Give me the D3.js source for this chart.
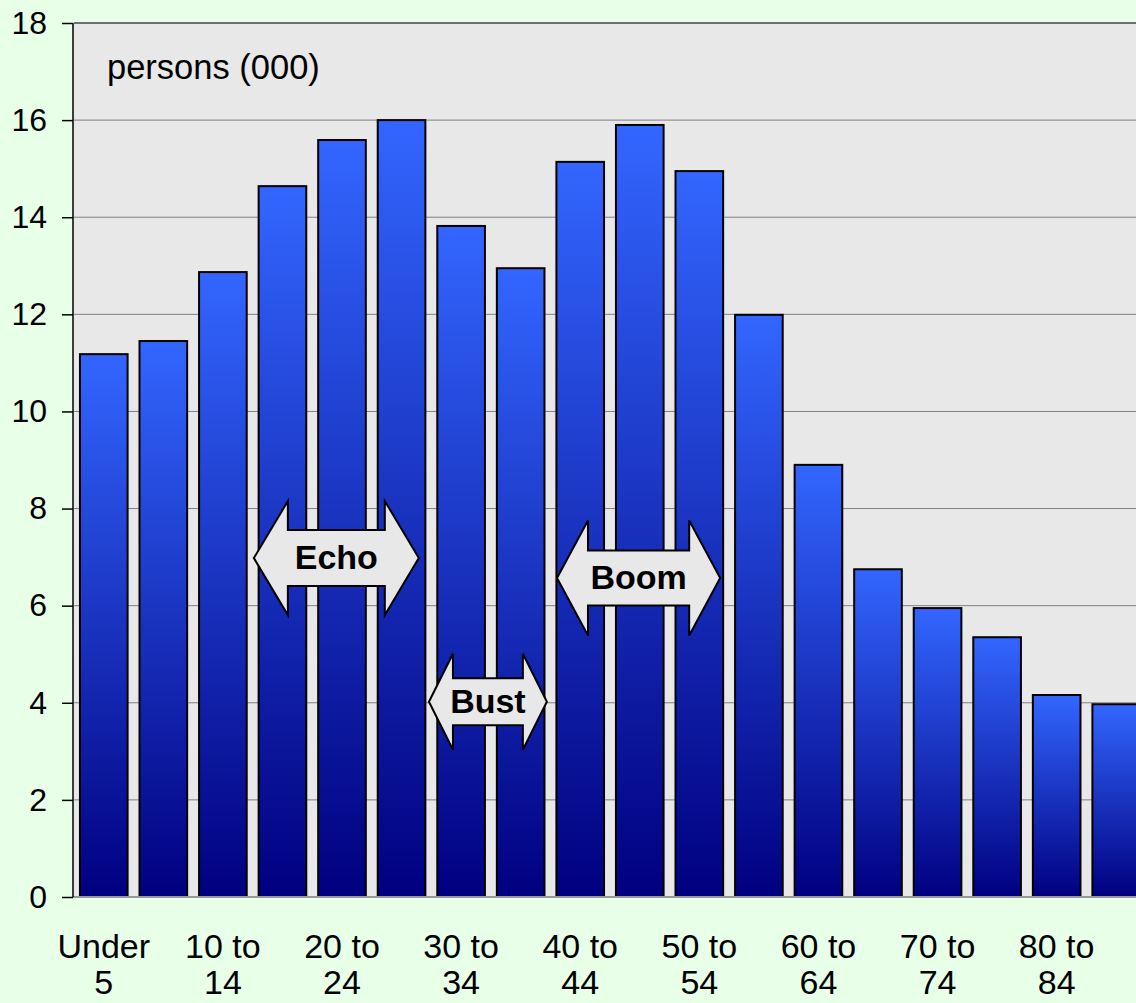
<!DOCTYPE html>
<html>
<head>
<meta charset="utf-8">
<script src="https://cdn.jsdelivr.net/npm/d3@7"></script>
<style>
  html, body { margin: 0; padding: 0; background: #E8FFE8; }
  svg { display: block; }
  text { font-family: "Liberation Sans", Arial, sans-serif; }
</style>
</head>
<body>
<svg id="chart" width="1136" height="1003"></svg>
<script>
// ---- data ----
const categories = ["Under 5","5 to 9","10 to 14","15 to 19","20 to 24","25 to 29","30 to 34","35 to 39",
  "40 to 44","45 to 49","50 to 54","55 to 59","60 to 64","65 to 69","70 to 74","75 to 79","80 to 84","85+"];
const values = [11.18, 11.45, 12.87, 14.64, 15.59, 16.0, 13.82, 12.95, 15.14, 15.90, 14.95, 11.99, 8.90, 6.75, 5.95, 5.35, 4.16, 3.97];
const yTicks = [0, 2, 4, 6, 8, 10, 12, 14, 16, 18];
const xTickLabels = ["Under 5","10 to 14","20 to 24","30 to 34","40 to 44","50 to 54","60 to 64","70 to 74","80 to 84"];
const unitLabel = "persons (000)";
// annotations: label, from/to in band-index units, centre value
const annLabels = ["Echo", "Bust", "Boom"];
const annFrom = [3.02, 5.96, 8.11];
const annTo = [5.79, 7.94, 10.85];
const annValue = [6.98, 4.02, 6.57];

// ---- layout ----
const svg = d3.select("#chart");
const pLeft = 74, pRight = 1146, pTop = 23, pBottom = 897;

const x = d3.scaleBand().domain(categories).range([pLeft, pRight]).paddingInner(0.2).paddingOuter(0.1);
const y = d3.scaleLinear().domain([0, 18]).range([pBottom, pTop]);
const xu = d3.scaleLinear().domain([0, categories.length]).range([pLeft, pRight]);

// gradient
const defs = svg.append("defs");
const grad = defs.append("linearGradient").attr("id", "barGrad").attr("x1", 0).attr("y1", 0).attr("x2", 0).attr("y2", 1);
grad.append("stop").attr("offset", "0%").attr("stop-color", "#3366FF");
grad.append("stop").attr("offset", "100%").attr("stop-color", "#000080");

// plot background
svg.append("rect").attr("x", pLeft - 1).attr("y", pTop).attr("width", pRight - pLeft + 1).attr("height", pBottom - pTop)
  .attr("fill", "#E8E8E8");

// gridlines
svg.append("g").selectAll("line").data(yTicks.filter(d => d > 0)).join("line")
  .attr("x1", pLeft).attr("x2", pRight)
  .attr("y1", d => y(d)).attr("y2", d => y(d))
  .attr("stroke", d => d === 18 ? "#707070" : "#808080").attr("stroke-width", d => d === 18 ? 2 : 1);

// unit label
svg.append("text").attr("x", 107).attr("y", 79).attr("font-size", 34.5).attr("fill", "#000").text(unitLabel);

// bars
svg.append("g").selectAll("rect").data(values).join("rect")
  .attr("x", (d, i) => x(categories[i]))
  .attr("y", d => y(d))
  .attr("width", x.bandwidth())
  .attr("height", d => y(0) - y(d))
  .attr("fill", "url(#barGrad)")
  .attr("stroke", "#000").attr("stroke-width", 2);

// bottom axis line
svg.append("line").attr("x1", pLeft - 1).attr("x2", pRight).attr("y1", pBottom).attr("y2", pBottom)
  .attr("stroke", "#999").attr("stroke-width", 2);

// y axis
const yAxis = d3.axisLeft(y).tickValues(yTicks).tickSize(11).tickPadding(15).tickFormat(d3.format("d"));
const gy = svg.append("g").attr("transform", `translate(${pLeft - 1},0)`).call(yAxis);
gy.select(".domain").attr("stroke", "#000").attr("stroke-width", 1.5).attr("d", `M0,${pTop}V${pBottom}`);
gy.selectAll(".tick line").attr("stroke", "#000").attr("stroke-width", 1.5);
gy.selectAll(".tick text").attr("font-size", 32).attr("fill", "#000")
  .attr("font-family", '"Liberation Sans", Arial, sans-serif');

// x labels (every other category)
const gx = svg.append("g");
xTickLabels.forEach(lbl => {
  const cx = x(lbl) + x.bandwidth() / 2;
  const m = lbl.match(/^(.*) (\S+)$/);
  const t = gx.append("text").attr("text-anchor", "middle").attr("font-size", 34).attr("fill", "#000");
  t.append("tspan").attr("x", cx).attr("y", 958).text(m[1]);
  t.append("tspan").attr("x", cx).attr("y", 994).text(m[2]);
});

// annotation arrows
const annStyle = [
  { hh: 57, sh: 28, hl: 34, fs: 34 },
  { hh: 48, sh: 23.5, hl: 24, fs: 34 },
  { hh: 57.5, sh: 27.5, hl: 31, fs: 34 }
];
annLabels.forEach((lbl, i) => {
  const x0 = xu(annFrom[i]), x1 = xu(annTo[i]), cy = y(annValue[i]);
  const s = annStyle[i];
  const pts = [
    [x0, cy], [x0 + s.hl, cy - s.hh], [x0 + s.hl, cy - s.sh], [x1 - s.hl, cy - s.sh], [x1 - s.hl, cy - s.hh],
    [x1, cy], [x1 - s.hl, cy + s.hh], [x1 - s.hl, cy + s.sh], [x0 + s.hl, cy + s.sh], [x0 + s.hl, cy + s.hh]
  ];
  svg.append("path").attr("d", d3.line()(pts) + "Z")
    .attr("fill", "#E8E8E8").attr("stroke", "#000").attr("stroke-width", 2).attr("stroke-linejoin", "miter");
  svg.append("text").attr("x", (x0 + x1) / 2).attr("y", cy).attr("dy", "0.33em")
    .attr("text-anchor", "middle").attr("font-weight", "bold").attr("font-size", s.fs).attr("fill", "#000").text(lbl);
});
</script>
</body>
</html>
